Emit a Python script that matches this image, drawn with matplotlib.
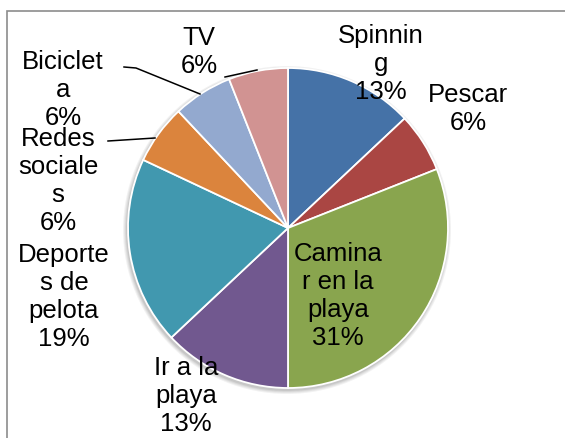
import matplotlib
matplotlib.use("Agg")
import matplotlib.pyplot as plt
from matplotlib.patches import Rectangle, Circle

plt.rcParams['font.family'] = ['Liberation Sans', 'DejaVu Sans']

# actividades y porcentajes
names = ["Spinnin\ng", "Pescar", "Camina\nr en la\nplaya", "Ir a la\nplaya",
         "Deporte\ns de\npelota", "Redes\nsociale\ns", "Biciclet\na", "TV"]
values = [13, 6, 31, 13, 19, 6, 6, 6]
colors = ["#4572A7", "#AA4643", "#89A54E", "#71588F",
          "#4198AF", "#DB843D", "#93A9CF", "#D19392"]

# label centres, in pixels from the top left
label_xy = [(381, 64), (468, 109), (338, 296), (186, 396),
            (64, 297), (58, 181), (63, 90), (199, 52)]

W, H = 565, 438
fig = plt.figure(figsize=(W / 100, H / 100), dpi=100)
ax = fig.add_axes([0, 0, 1, 1])
ax.set_xlim(0, W)
ax.set_ylim(0, H)
ax.set_aspect('equal')
ax.axis('off')

# chart frame
ax.add_patch(Rectangle((7, -10), W, H - 11 + 10, fill=False,
                       edgecolor="#8c8c8c", linewidth=1.2))

cx, cy, r = 288, H - 228, 160

# soft shadow under the pie
for k, a in enumerate([0.05, 0.05, 0.06, 0.07]):
    ax.add_patch(Circle((cx - 1, cy - 2), r + 4 - k, color="black",
                        alpha=a, linewidth=0))

ax.pie(values, colors=colors, startangle=90, counterclock=False,
       center=(cx, cy), radius=r, frame=True,
       wedgeprops=dict(edgecolor="white", linewidth=1.3))
ax.set_xlim(0, W)
ax.set_ylim(0, H)
ax.axis('off')

for name, v, (x, y) in zip(names, values, label_xy):
    ax.text(x, H - y, f"{name}\n{v}%", ha="center", va="center",
            fontsize=18.5, linespacing=1.22, color="black")

# leader lines
ax.plot([124, 136, 200], [H - 67, H - 68, H - 94], color="black", lw=1.1)
ax.plot([108, 155], [H - 141, H - 138], color="black", lw=1.1)
ax.plot([225, 257], [H - 77, H - 70], color="black", lw=1.1)

fig.savefig("out.png", dpi=100)
